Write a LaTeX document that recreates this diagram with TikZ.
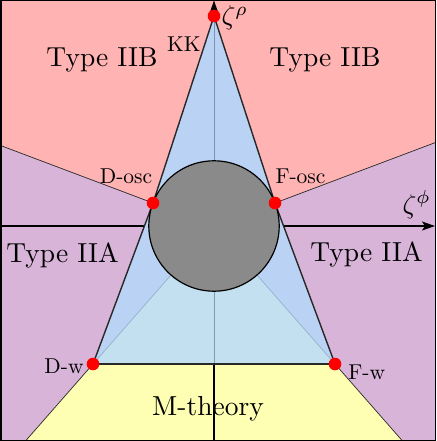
\documentclass[tikz,border=0pt]{standalone}
\usetikzlibrary{arrows.meta}
\definecolor{pinkr}{RGB}{255,179,179}
\definecolor{purp}{RGB}{216,180,216}
\definecolor{yel}{RGB}{255,255,180}
\definecolor{blu}{RGB}{186,211,244}
\definecolor{cya}{RGB}{194,224,240}
\definecolor{gry}{RGB}{138,138,138}
\definecolor{edgec}{RGB}{40,40,40}
\definecolor{innerc}{RGB}{150,175,205}
\tikzset{
  axisline/.style={line width=1.4pt, -{Stealth[length=13pt,width=9pt,inset=3pt]}},
  bound/.style={line width=0.7pt, draw=edgec},
  hulledge/.style={line width=1.4pt, draw=edgec, line join=round},
  innerray/.style={line width=0.7pt, draw=innerc},
  dot/.style={fill=red},
  biglabel/.style={scale=2.75, transform shape, inner sep=0pt},
  smalllabel/.style={scale=2.15, transform shape, inner sep=0pt},
  mathlabel/.style={scale=2.7, transform shape, inner sep=0pt}
}
\begin{document}
\begin{tikzpicture}[x=1pt,y=-1pt]
\useasboundingbox (0,0) rectangle (436,441);
\coordinate (O) at (214,226);
\coordinate (KK) at (214,16);
\coordinate (Do) at (153,203);
\coordinate (Fo) at (275,203);
\coordinate (Dw) at (93,364);
\coordinate (Fw) at (335,364);
\coordinate (Le) at (0,145.3);
\coordinate (Re) at (436,142.3);
\coordinate (Bl) at (25.5,441);
\coordinate (Br) at (402.5,441);
\coordinate (xs) at (0,226);
\coordinate (xe) at (435,226);
\coordinate (ys) at (214,441);
\coordinate (ye) at (214,0.5);
\coordinate (Mb) at (214,364);
% regions
\fill[purp] (0,0) rectangle (436,441);
\fill[pinkr] (O) -- (Le) -- (0,0) -- (436,0) -- (Re) -- cycle;
\fill[yel] (Dw) -- (Fw) -- (Br) -- (Bl) -- cycle;
\draw[bound] (Do) -- (Le) (Fo) -- (Re) (Dw) -- (Bl) (Fw) -- (Br);
% axes
\draw[axisline] (xs) -- (xe);
\draw[axisline] (ys) -- (ye);
% polytope
\fill[blu] (KK) -- (Do) -- (Dw) -- (Fw) -- (Fo) -- cycle;
\fill[cya] (O) -- (Dw) -- (Fw) -- cycle;
\draw[innerray] (O) -- (Dw) (O) -- (Fw);
\draw[black, opacity=0.3, line width=1pt] (KK) -- (Mb);
\draw[hulledge] (Dw) -- (Do) -- (KK) -- (Fo) -- (Fw);
\draw[hulledge] (Dw) -- (Fw);
\draw[fill=gry, line width=1.2pt] (O) circle[radius=65.2pt];
% dots
\foreach \p in {KK,Do,Fo,Dw,Fw} \fill[dot] (\p) circle[radius=6.3pt];
% labels
\node[biglabel, anchor=base] (l1) at (102,67) {Type IIB};
\node[biglabel, anchor=base] (l2) at (325,67) {Type IIB};
\node[biglabel, anchor=base] (l3) at (62.5,262) {Type IIA};
\node[biglabel, anchor=base] (l4) at (366.5,261) {Type IIA};
\node[biglabel, anchor=base] (l5) at (208,415) {M-theory};
\node[smalllabel, anchor=base east] (l6) at (201,52) {KK};
\node[smalllabel, anchor=base] (l7) at (126,183) {D-osc};
\node[smalllabel, anchor=base] (l8) at (300.5,183) {F-osc};
\node[smalllabel, anchor=base east] (l9) at (84,373) {D-w};
\node[smalllabel, anchor=base west] (l10) at (348,379) {F-w};
\node[mathlabel, anchor=base west] (l11) at (221,25) {$\zeta^{\rho}$};
\node[mathlabel, anchor=base west] (l12) at (402,213) {$\zeta^{\phi}$};
% frame
\draw[line width=1.5pt] (0.75,0.75) rectangle (435.25,440.25);
\end{tikzpicture}
\end{document}
